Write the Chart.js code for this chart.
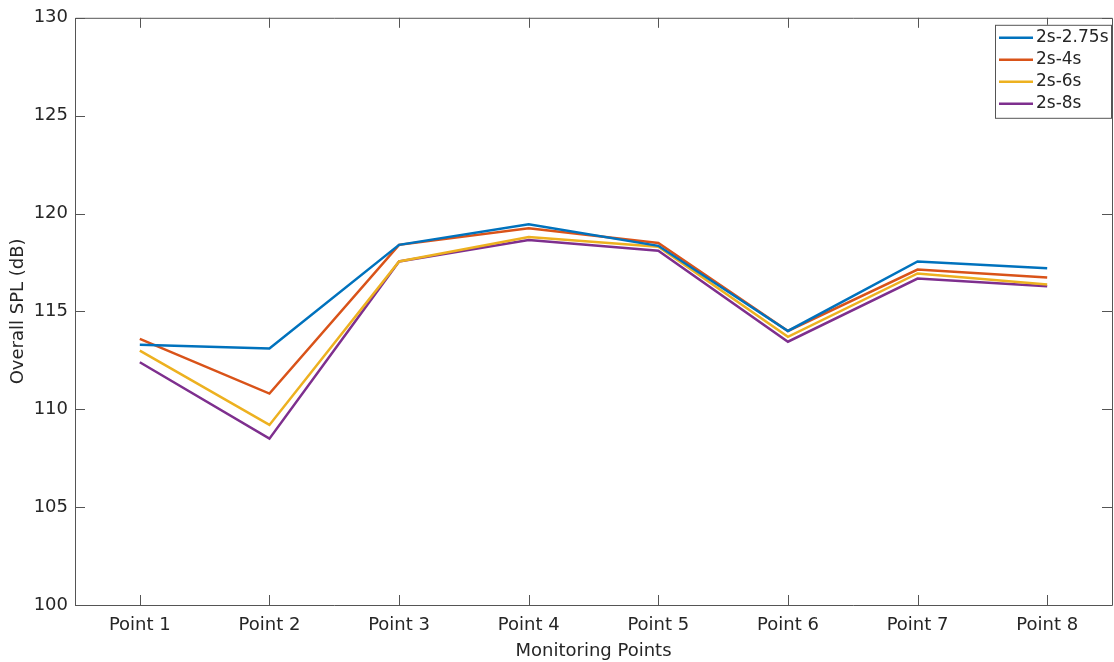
<!DOCTYPE html>
<html>
<head>
<meta charset="utf-8">
<script src="https://cdn.jsdelivr.net/npm/chart.js@4/dist/chart.umd.min.js"></script>
<style>
  html, body { margin: 0; padding: 0; background: #fff; }
  #wrap { width: 1114px; height: 662px; }
</style>
</head>
<body>
<div id="wrap"><canvas id="spl"></canvas></div>
<script>
// monitoring points on the x axis
const points = ['Point 1', 'Point 2', 'Point 3', 'Point 4', 'Point 5', 'Point 6', 'Point 7', 'Point 8'];
const yTicks = [100, 105, 110, 115, 120, 125, 130];

// overall SPL (dB) per time window
const win275 = [113.3, 113.1, 118.4, 119.45, 118.35, 114.0, 117.55, 117.2];
const win4 = [113.6, 110.8, 118.4, 119.25, 118.5, 114.0, 117.14, 116.73];
const win6 = [113.0, 109.2, 117.55, 118.8, 118.3, 113.7, 116.94, 116.38];
const win8 = [112.4, 108.5, 117.55, 118.65, 118.1, 113.45, 116.68, 116.28];

const seriesNames = ['2s-2.75s', '2s-4s', '2s-6s', '2s-8s'];
const colors = ['#0072BD', '#D95319', '#EDB120', '#7E2F8E'];
const axisColor = '#555555';
const textColor = '#262626';
const fontName = '"DejaVu Sans", sans-serif';

// MATLAB style ticks pointing inside the box, on all four sides
const boxTicks = {
    id: 'boxTicks',
    afterDraw(chart) {
        const ctx = chart.ctx;
        const a = chart.chartArea;
        const xs = chart.scales.x, ys = chart.scales.y;
        const len = 10;
        ctx.save();
        ctx.strokeStyle = axisColor;
        ctx.lineWidth = 1;
        ctx.beginPath();
        ctx.rect(a.left + 0.5, a.top + 0.5, a.right - a.left, a.bottom - a.top);
        xs.ticks.forEach((t, i) => {
            const x = Math.round(xs.getPixelForTick(i)) + 0.5;
            ctx.moveTo(x, a.bottom); ctx.lineTo(x, a.bottom - len);
            ctx.moveTo(x, a.top); ctx.lineTo(x, a.top + len);
        });
        ys.ticks.forEach((t, i) => {
            const y = Math.round(ys.getPixelForTick(i)) + 0.5;
            ctx.moveTo(a.left, y); ctx.lineTo(a.left + len, y);
            ctx.moveTo(a.right, y); ctx.lineTo(a.right - len, y);
        });
        ctx.stroke();
        ctx.restore();
    }
};

// boxed legend in the upper right corner
const boxLegend = {
    id: 'boxLegend',
    afterDraw(chart) {
        const ctx = chart.ctx;
        const a = chart.chartArea;
        const sets = chart.data.datasets;
        const w = 116, rowH = 22;
        const h = sets.length * rowH + 5;
        const x0 = a.right - w - 1, y0 = a.top + 7;
        ctx.save();
        ctx.fillStyle = '#fff';
        ctx.fillRect(x0, y0, w, h);
        ctx.strokeStyle = axisColor;
        ctx.lineWidth = 1;
        ctx.strokeRect(x0 + 0.5, y0 + 0.5, w, h);
        ctx.font = '17px ' + fontName;
        ctx.textBaseline = 'middle';
        sets.forEach((ds, i) => {
            const y = y0 + 13 + i * rowH;
            ctx.strokeStyle = ds.borderColor;
            ctx.lineWidth = 2.5;
            ctx.beginPath();
            ctx.moveTo(x0 + 4, y); ctx.lineTo(x0 + 38, y);
            ctx.stroke();
            ctx.fillStyle = textColor;
            ctx.fillText(ds.label, x0 + 41, y);
        });
        ctx.restore();
    }
};

const allData = [win275, win4, win6, win8];

const ctx = document.getElementById('spl').getContext('2d');
const myChart = new Chart(ctx, {
    type: 'line',
    data: {
        labels: points,
        datasets: allData.map((d, i) => ({
            label: seriesNames[i],
            data: d,
            borderColor: colors[i],
            backgroundColor: colors[i],
            borderWidth: 2.5,
            pointRadius: 0,
            tension: 0,
            fill: false
        }))
    },
    options: {
        responsive: true,
        maintainAspectRatio: false,
        animation: false,
        layout: { padding: { left: 0, right: 2, top: 17, bottom: 0 } },
        plugins: {
            legend: { display: false },
            tooltip: { enabled: false }
        },
        scales: {
            x: {
                offset: true,
                grid: { display: false, drawTicks: false },
                border: { display: false },
                ticks: {
                    color: textColor,
                    font: { family: fontName, size: 18 },
                    padding: 10,
                    maxRotation: 0
                },
                title: {
                    display: true,
                    text: 'Monitoring Points',
                    color: textColor,
                    font: { family: fontName, size: 18 },
                    padding: { top: 2, bottom: 0 }
                },
                afterFit(scale) { scale.height = 57; }
            },
            y: {
                min: 100,
                max: 130,
                afterBuildTicks(scale) {
                    scale.ticks = yTicks.map(v => ({ value: v }));
                },
                grid: { display: false, drawTicks: false },
                border: { display: false },
                ticks: {
                    color: textColor,
                    font: { family: fontName, size: 18 },
                    padding: 7
                },
                title: {
                    display: true,
                    text: 'Overall SPL (dB)',
                    color: textColor,
                    font: { family: fontName, size: 18 },
                    padding: { top: 8, bottom: 2 }
                },
                afterFit(scale) { scale.width = 75; }
            }
        }
    },
    plugins: [boxTicks, boxLegend]
});
</script>
</body>
</html>
